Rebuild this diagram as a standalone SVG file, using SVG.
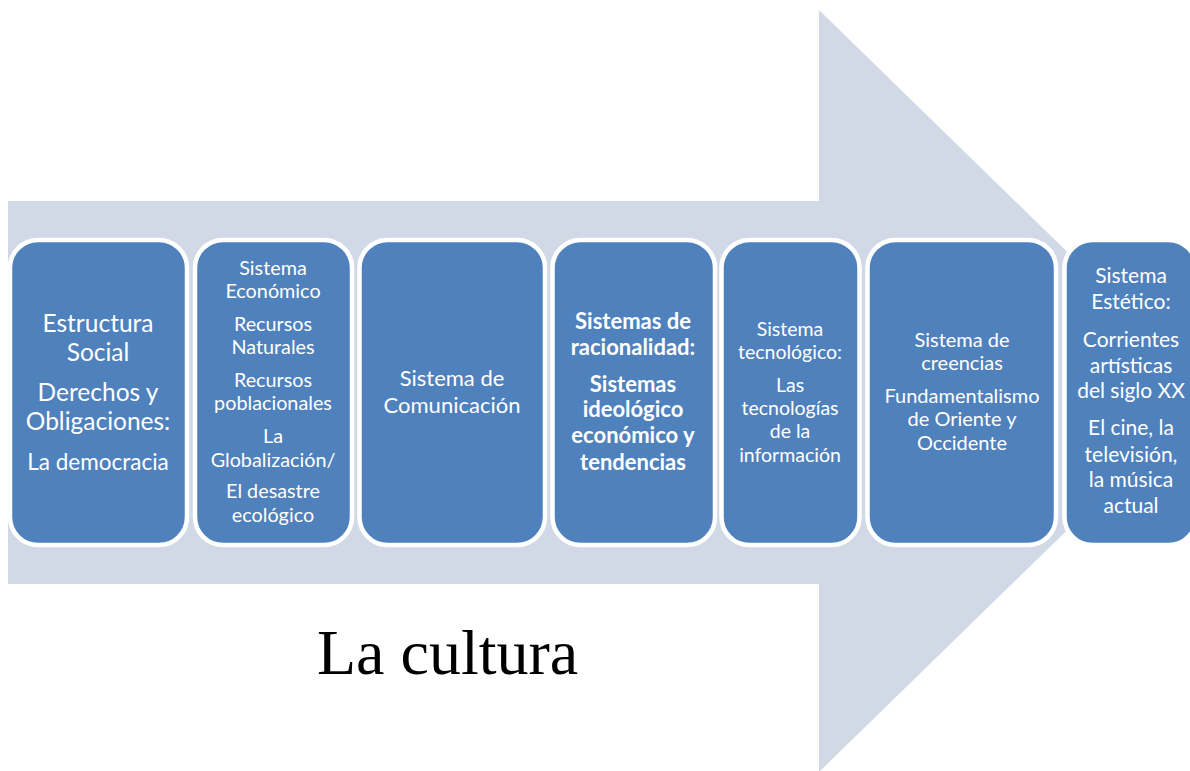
<svg xmlns="http://www.w3.org/2000/svg" width="1190" height="771" viewBox="0 0 1190 771">
<style>
.arrow{fill:#D1D9E7}
.box{fill:#4F81BD;stroke:#FFFFFF;stroke-width:4.5}
.t{font-family:Lato,"Open Sans","Liberation Sans",sans-serif;fill:#FFFFFF;text-anchor:middle}
.b{font-weight:bold}
.title{font-family:"Liberation Serif","Times New Roman",serif;font-size:64px;fill:#000000}
</style>
<rect width="1190" height="771" fill="#FFFFFF"/>
<g id="arrow">
<polygon class="arrow" points="8,201 819,201 819,10 1210,391 819,772 819,584 8,584"/>
</g>
<g id="connectors"></g>
<g id="node1">
<rect class="box" x="10" y="240" width="177" height="305" rx="28"/>
<text class="t" font-size="24.5"><tspan x="98" y="332">Estructura</tspan><tspan x="98" y="361">Social</tspan><tspan x="98" y="401">Derechos y</tspan><tspan x="98" y="430">Obligaciones:</tspan></text>
<text class="t" font-size="22.5"><tspan x="98" y="470">La democracia</tspan></text>
</g>
<g id="node2">
<rect class="box" x="195" y="240" width="157" height="305" rx="28"/>
<text class="t" font-size="19.8"><tspan x="273" y="275">Sistema</tspan><tspan x="273" y="298">Económico</tspan><tspan x="273" y="331">Recursos</tspan><tspan x="273" y="354">Naturales</tspan><tspan x="273" y="387">Recursos</tspan><tspan x="273" y="410">poblacionales</tspan><tspan x="273" y="443">La</tspan><tspan x="273" y="467">Globalización/</tspan><tspan x="273" y="498">El desastre</tspan><tspan x="273" y="522">ecológico</tspan></text>
</g>
<g id="node3">
<rect class="box" x="359.5" y="240" width="185.5" height="305" rx="28"/>
<text class="t" font-size="22"><tspan x="452" y="386">Sistema de</tspan><tspan x="452" y="413">Comunicación</tspan></text>
</g>
<g id="node4">
<rect class="box" x="552.5" y="240" width="162.5" height="305" rx="28"/>
<text class="t b" font-size="22"><tspan x="633" y="329">Sistemas de</tspan><tspan x="633" y="355">racionalidad:</tspan><tspan x="633" y="392">Sistemas</tspan><tspan x="633" y="417">ideológico</tspan><tspan x="633" y="443">económico y</tspan><tspan x="633" y="470">tendencias</tspan></text>
</g>
<g id="node5">
<rect class="box" x="721.5" y="240" width="138" height="305" rx="28"/>
<text class="t" font-size="19.5"><tspan x="790" y="336">Sistema</tspan><tspan x="790" y="359">tecnológico:</tspan><tspan x="790" y="392">Las</tspan><tspan x="790" y="415">tecnologías</tspan><tspan x="790" y="438">de la</tspan><tspan x="790" y="462">información</tspan></text>
</g>
<g id="node6">
<rect class="box" x="867.5" y="240" width="188.5" height="305" rx="28"/>
<text class="t" font-size="20"><tspan x="962" y="347">Sistema de</tspan><tspan x="962" y="370">creencias</tspan><tspan x="962" y="403">Fundamentalismo</tspan><tspan x="962" y="426">de Oriente y</tspan><tspan x="962" y="450">Occidente</tspan></text>
</g>
<g id="node7">
<rect class="box" x="1064.5" y="240" width="132" height="305" rx="28"/>
<text class="t" font-size="21"><tspan x="1131" y="283">Sistema</tspan><tspan x="1131" y="309">Estético:</tspan><tspan x="1131" y="347">Corrientes</tspan><tspan x="1131" y="373">artísticas</tspan><tspan x="1131" y="398">del siglo XX</tspan><tspan x="1131" y="435">El cine, la</tspan><tspan x="1131" y="462">televisión,</tspan><tspan x="1131" y="487">la música</tspan><tspan x="1131" y="513">actual</tspan></text>
</g>
<g id="label">
<text class="title" x="317" y="674">La cultura</text>
</g>
</svg>
